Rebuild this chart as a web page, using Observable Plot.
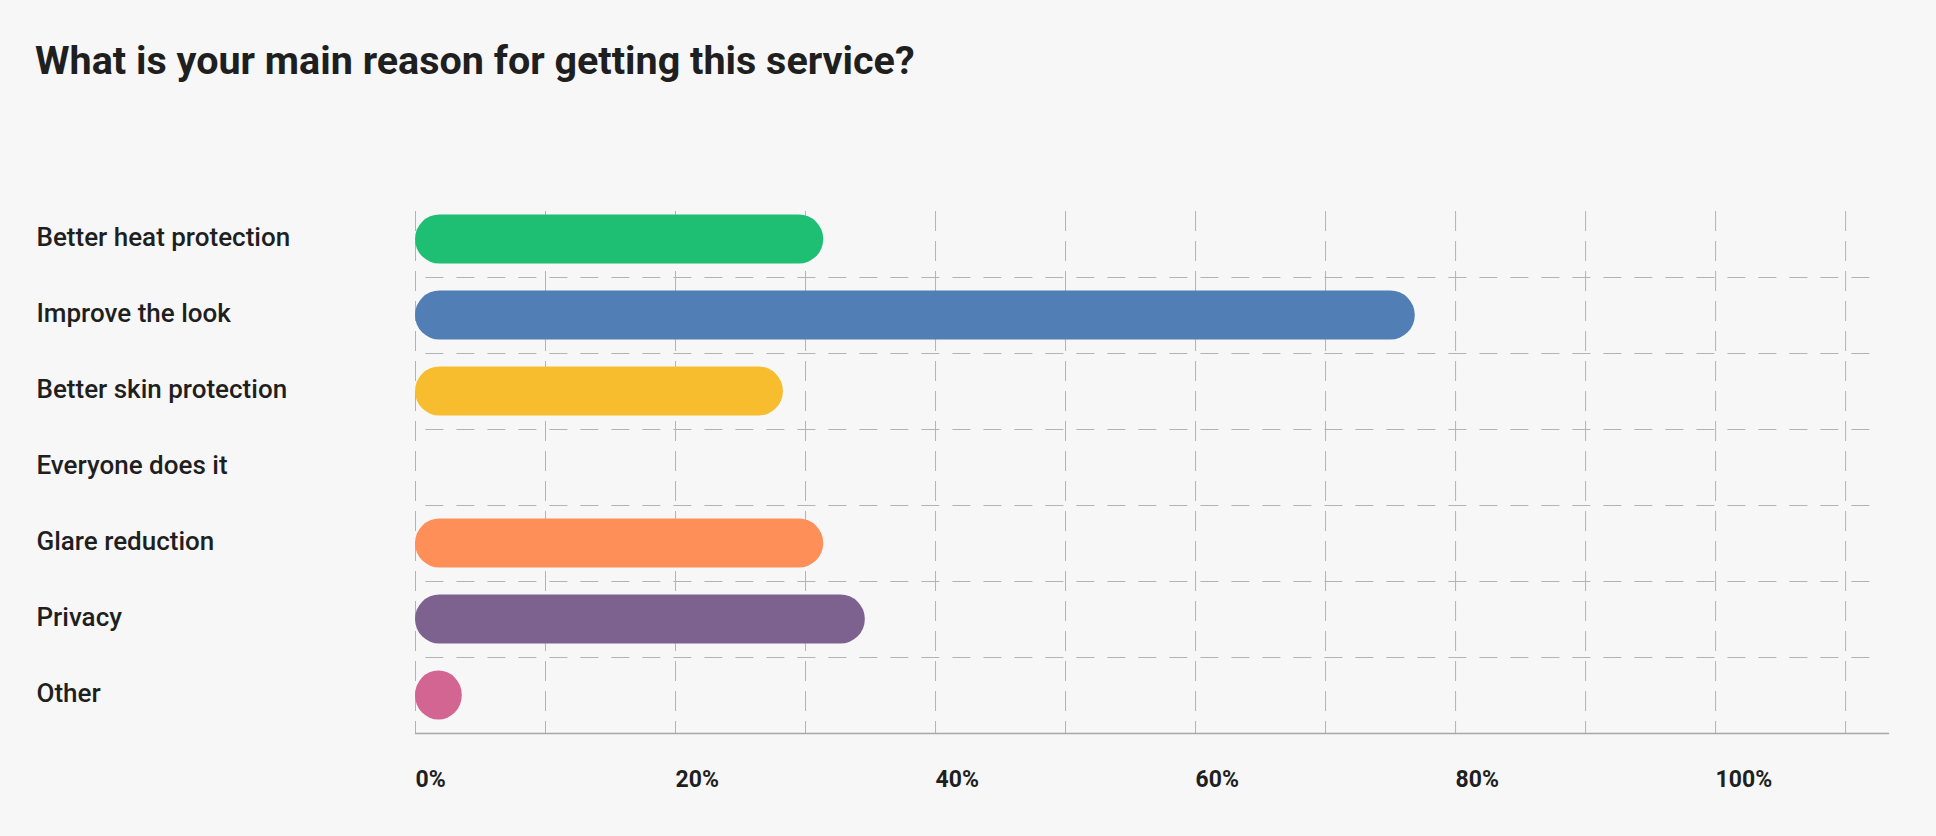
<!DOCTYPE html>
<html>
<head>
<meta charset="utf-8">
<script src="https://cdn.jsdelivr.net/npm/d3@7"></script>
<script src="https://cdn.jsdelivr.net/npm/@observablehq/plot@0.6"></script>
<style>
  html, body { margin: 0; padding: 0; background: #f7f7f7; }
  #title { height: 110px; box-sizing: border-box; padding: 39px 0 0 35px; margin: 0;
    font-family: Roboto, sans-serif; font-weight: 700; font-size: 39.5px; color: #1f1f1f; line-height: 44px; }
  #chart svg { display: block; }
</style>
</head>
<body>
<h1 id="title">What is your main reason for getting this service?</h1>
<div id="chart"></div>
<script>
const categories = ["Better heat protection", "Improve the look", "Better skin protection", "Everyone does it", "Glare reduction", "Privacy", "Other"];
const values = [0.314, 0.769, 0.283, 0, 0.314, 0.346, 0.036];
const colors = ["#1fbf73", "#517fb5", "#f7bd2e", "#a0a0a0", "#ff8f59", "#7d618f", "#d36593"];
const gridTicks = [0, 0.1, 0.2, 0.3, 0.4, 0.5, 0.6, 0.7, 0.8, 0.9, 1.0, 1.1];
const labelTicks = [0, 0.2, 0.4, 0.6, 0.8, 1.0];

const data = categories.map((c, i) => ({category: c, value: values[i]}));

const step = 76;
const plot = Plot.plot({
  width: 1936,
  height: 726,
  marginTop: 91,
  marginBottom: 103,
  marginLeft: 415,
  marginRight: 48,
  style: {background: "#f7f7f7", fontFamily: "Roboto, sans-serif"},
  x: {domain: [0, 1.133], axis: null},
  y: {domain: categories, padding: 0, axis: null},
  color: {domain: categories, range: colors},
  marks: [
    Plot.ruleX(gridTicks, {stroke: "#b3b3b3", strokeWidth: 1, strokeDasharray: "20,10", strokeDashoffset: -10}),
    Plot.ruleY(categories.slice(1), {y: d => d, x1: 0.008, x2: 1.128, dy: -step / 2, stroke: "#b3b3b3", strokeWidth: 1.2, strokeDasharray: "18,13"}),
    Plot.barX(data, {y: "category", x: "value", fill: "category", insetTop: 13.5, insetBottom: 13.5, rx: 24.5}),
    Plot.axisY({label: null, tickSize: 0, tickPadding: 0, textAnchor: "start", dx: -379, dy: -2, fontSize: 26, fontWeight: 500, fill: "#1f1f1f"}),
    Plot.axisX(labelTicks, {label: null, tickSize: 0, tickPadding: 37, textAnchor: "start", tickFormat: d => Math.round(d * 100) + "%", fontSize: 23, fontWeight: 700, fill: "#1f1f1f"}),
    Plot.frame({anchor: "bottom", stroke: "#a8a8a8", strokeWidth: 1.3})
  ]
});
document.getElementById("chart").append(plot);
</script>
</body>
</html>
